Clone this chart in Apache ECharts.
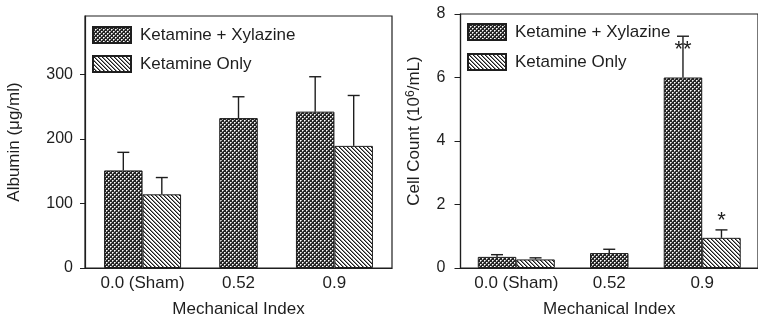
<!DOCTYPE html>
<html><head><meta charset="utf-8">
<script src="https://cdn.jsdelivr.net/npm/echarts@6/dist/echarts.min.js"></script>
<style>html,body{margin:0;padding:0;background:#fff}#c{width:758px;height:323px}</style>
</head><body><div id="c"></div>
<script>
const categories = ['0.0 (Sham)', '0.52', '0.9'];
const seriesNames = ['Ketamine + Xylazine', 'Ketamine Only'];
const albuminKX = [151, 232, 242];
const albuminKXErr = [28, 33, 54];
const albuminKO = [114, null, 189];
const albuminKOErr = [26, null, 78];
const cellKX = [0.35, 0.47, 6.0];
const cellKXErr = [0.07, 0.12, 1.3];
const cellKO = [0.27, null, 0.95];
const cellKOErr = [0.05, null, 0.25];
const albuminNotesKX = ['', '', ''];
const albuminNotesKO = ['', '', ''];
const cellNotesKX = ['', '', '**'];
const cellNotesKO = ['', '', '*'];
const albuminTicks = [0, 100, 200, 300];
const cellTicks = [0, 2, 4, 6, 8];

const FONT = 'Liberation Sans, Arial, sans-serif';
const INK = '#1e1e1e';
const BAR_W = 38.5;

function crossPattern() {
  const c = document.createElement('canvas'); c.width = 4; c.height = 4;
  const g = c.getContext('2d');
  g.fillStyle = '#262626'; g.fillRect(0, 0, 4, 4);
  g.fillStyle = '#ffffff'; g.fillRect(0, 0, 1, 1); g.fillRect(2, 2, 1, 1);
  g.fillStyle = '#a8a8a8'; g.fillRect(1, 0, 1, 1); g.fillRect(0, 1, 1, 1); g.fillRect(3, 2, 1, 1); g.fillRect(2, 3, 1, 1);
  return { image: c, repeat: 'repeat' };
}
function hatchPattern() {
  const c = document.createElement('canvas'); c.width = 4; c.height = 4;
  const g = c.getContext('2d');
  g.fillStyle = '#ffffff'; g.fillRect(0, 0, 4, 4);
  for (let i = 0; i < 4; i++) {
    g.fillStyle = '#1a1a1a'; g.fillRect(i, i, 1, 1);
    g.fillStyle = '#8a8a8a'; g.fillRect((i + 1) % 4, i, 1, 1);
  }
  return { image: c, repeat: 'repeat' };
}
const PAT = [crossPattern(), hatchPattern()];

function errRender(offset, notes, noteDy) {
  return function (params, api) {
    const x = api.value(0), v = api.value(1), e = api.value(2);
    const base = api.coord([x, v]);
    const top = api.coord([x, v + e]);
    const cx = base[0] + offset;
    const st = { stroke: INK, lineWidth: 1.4 };
    const ch = [
      { type: 'line', shape: { x1: cx, y1: base[1], x2: cx, y2: top[1] }, style: st },
      { type: 'line', shape: { x1: cx - 6, y1: top[1], x2: cx + 6, y2: top[1] }, style: st }
    ];
    const note = notes[x];
    if (note) {
      ch.push({ type: 'text', x: cx, y: top[1] + noteDy,
        style: { text: note, fill: INK, font: '22px ' + FONT, align: 'center', verticalAlign: 'middle' } });
    }
    return { type: 'group', children: ch };
  };
}

function panelSeries(p, kx, kxErr, ko, koErr, notesKX, notesKO, noteDy) {
  const paired = categories.map((c, i) => i).filter(i => ko[i] != null);
  const single = categories.map((c, i) => i).filter(i => ko[i] == null);
  const barBase = { type: 'bar', barWidth: BAR_W, barGap: '0%', yAxisIndex: p, z: 2 };
  const s = [];
  s.push(Object.assign({}, barBase, { name: seriesNames[0], xAxisIndex: 2 * p,
    itemStyle: { color: PAT[0], borderColor: INK, borderWidth: 1 },
    data: paired.map(i => [i, kx[i]]) }));
  s.push(Object.assign({}, barBase, { name: seriesNames[1], xAxisIndex: 2 * p,
    itemStyle: { color: PAT[1], borderColor: INK, borderWidth: 1 },
    data: paired.map(i => [i, ko[i]]) }));
  s.push(Object.assign({}, barBase, { name: seriesNames[0], xAxisIndex: 2 * p + 1,
    itemStyle: { color: PAT[0], borderColor: INK, borderWidth: 1 },
    data: single.map(i => [i, kx[i]]) }));
  const errBase = { type: 'custom', xAxisIndex: 2 * p, yAxisIndex: p, z: 5, silent: true };
  s.push(Object.assign({}, errBase, { renderItem: errRender(-BAR_W / 2, notesKX, noteDy[0]),
    data: paired.map(i => [i, kx[i], kxErr[i]]) }));
  s.push(Object.assign({}, errBase, { renderItem: errRender(BAR_W / 2, notesKO, noteDy[1]),
    data: paired.map(i => [i, ko[i], koErr[i]]) }));
  s.push(Object.assign({}, errBase, { renderItem: errRender(0, notesKX, noteDy[0]),
    data: single.map(i => [i, kx[i], kxErr[i]]) }));
  return s;
}

function xAxes(p) {
  const common = { type: 'value', gridIndex: p, min: -0.6, max: 2.6, splitLine: { show: false } };
  return [
    Object.assign({}, common, {
      name: 'Mechanical Index', nameLocation: 'middle', nameGap: 33,
      nameTextStyle: { fontFamily: FONT, fontSize: 17, color: INK },
      axisLine: { onZero: false, lineStyle: { color: INK, width: 1.2 } },
      axisTick: { show: false },
      axisLabel: { customValues: [0, 1, 2], formatter: v => categories[v], margin: 7,
        fontFamily: FONT, fontSize: 17, color: INK }
    }),
    Object.assign({}, common, { show: false })
  ];
}

function legendAt(left, top, gap) {
  return { data: seriesNames, orient: 'vertical', left: left, top: top, padding: 0, icon: 'rect',
    itemWidth: 38, itemHeight: 16, itemGap: gap,
    formatter: n => '{t|' + n + '}',
    textStyle: { fontFamily: FONT, fontSize: 17, color: INK,
      rich: { t: { fontFamily: FONT, fontSize: 17, color: INK, padding: [0, 0, 0, 4] } } } };
}

const chart = echarts.init(document.getElementById('c'), null, { renderer: 'canvas' });
chart.setOption({
  animation: false,
  backgroundColor: '#fff',
  grid: [
    { left: 85, top: 16, width: 307, height: 257, show: true, borderColor: INK, borderWidth: 1.2, backgroundColor: 'transparent' },
    { left: 460.5, top: 14, width: 307, height: 255.5, show: true, borderColor: INK, borderWidth: 1.2, backgroundColor: 'transparent' }
  ],
  legend: [legendAt(92, 26, 11), legendAt(467, 23, 12)],
  xAxis: xAxes(0).concat(xAxes(1)),
  yAxis: [
    { type: 'value', gridIndex: 0, min: 0, max: 390, splitLine: { show: false },
      name: 'Albumin (\u03bcg/ml)', nameLocation: 'middle', nameGap: 62,
      nameTextStyle: { fontFamily: FONT, fontSize: 17, color: INK },
      axisLine: { show: true, onZero: false, lineStyle: { color: INK, width: 1.2 } },
      axisTick: { show: true, length: 5, customValues: albuminTicks, lineStyle: { color: INK } },
      axisLabel: { customValues: albuminTicks, margin: 12, fontFamily: FONT, fontSize: 16, color: INK } },
    { type: 'value', gridIndex: 1, min: 0, max: 8, splitLine: { show: false },
      name: '{n|Cell Count (10}{s|6}{n|/mL)}', nameLocation: 'middle', nameGap: 36,
      nameTextStyle: { fontFamily: FONT, fontSize: 17, color: INK, padding: [0, 0, 0, 20],
        rich: { n: { fontFamily: FONT, fontSize: 17, color: INK }, s: { fontFamily: FONT, fontSize: 12, color: INK, verticalAlign: 'top', padding: [0, 0, 8, 0] } } },
      axisLine: { show: true, onZero: false, lineStyle: { color: INK, width: 1.2 } },
      axisTick: { show: true, length: 6, customValues: cellTicks, lineStyle: { color: INK } },
      axisLabel: { customValues: cellTicks, margin: 15, fontFamily: FONT, fontSize: 16, color: INK } }
  ],
  series: panelSeries(0, albuminKX, albuminKXErr, albuminKO, albuminKOErr, albuminNotesKX, albuminNotesKO, [14, -9])
    .concat(panelSeries(1, cellKX, cellKXErr, cellKO, cellKOErr, cellNotesKX, cellNotesKO, [14, -9]))
});
</script></body></html>
